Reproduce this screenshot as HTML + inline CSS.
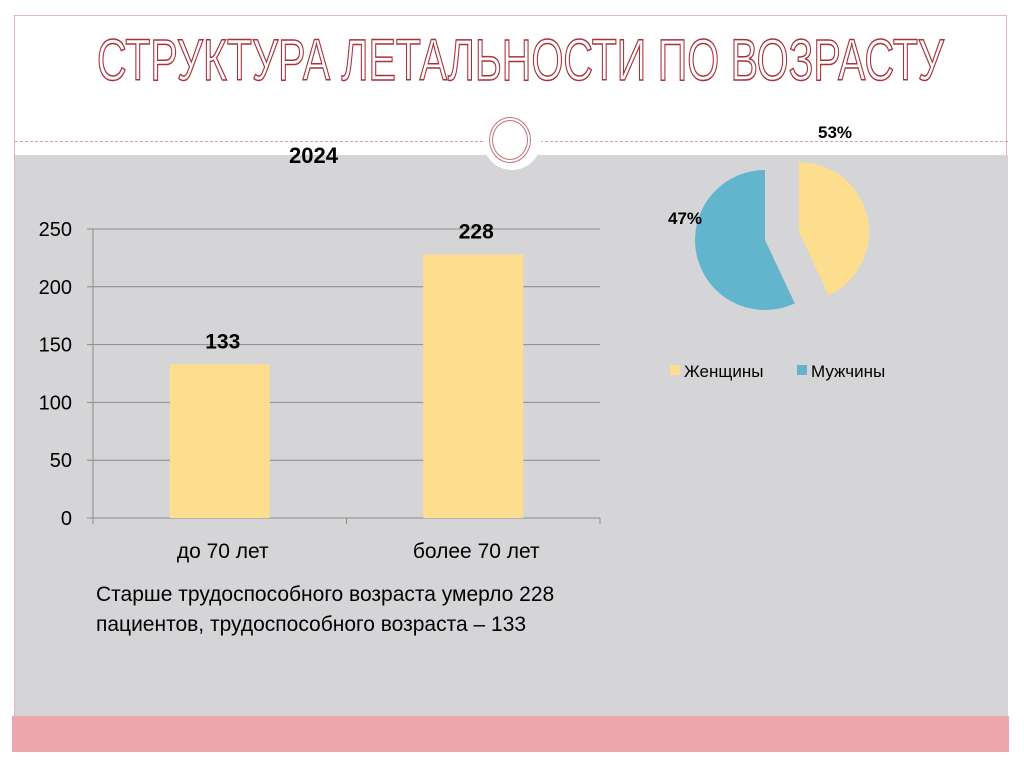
<!DOCTYPE html>
<html><head><meta charset="utf-8">
<style>
body{margin:0;width:1024px;height:767px;background:#fff;position:relative;overflow:hidden;font-family:"Liberation Sans","DejaVu Sans",sans-serif}
.abs{position:absolute}
</style></head>
<body>
<div class="abs" style="left:14px;top:15px;width:993px;height:737px;border:1px solid #e8b4bb;box-sizing:border-box"></div>
<div class="abs" style="left:15px;top:155px;width:993px;height:561px;background:#d5d5d8"></div>
<div class="abs" style="left:12px;top:716px;width:997px;height:36px;background:#eea6ae"></div>
<div class="abs" style="left:15px;top:141px;width:993px;border-top:1px dashed #d9a0a6"></div>
<div class="abs" id="title" style="left:0;top:30px;font-size:58px;line-height:62px;color:#fff;-webkit-text-stroke:1.5px #a8323c;white-space:nowrap;transform-origin:0 0">СТРУКТУРА ЛЕТАЛЬНОСТИ ПО ВОЗРАСТУ</div>
<div class="abs" style="left:483px;top:112px;width:58px;height:58px;border-radius:50%;background:#fff"></div>
<div class="abs" style="left:489px;top:117px;width:42px;height:46px;border-radius:50%;border:4px double #c5727c;box-sizing:border-box"></div>

<svg class="abs" style="left:0;top:0" width="1024" height="767" id="chart"></svg>

<div class="abs" style="left:289px;top:143px;font-size:22px;font-weight:bold;color:#000">2024</div>
<div class="abs" style="left:96px;top:580px;font-size:21px;line-height:30px;color:#000">Старше трудоспособного возраста умерло 228<br>пациентов, трудоспособного возраста – 133</div>

<script>
const categories=['до 70 лет','более 70 лет'];
const barValues=[133,228];
const yTicks=[0,50,100,150,200,250];
const pieLabels=['Женщины','Мужчины'];
const pieValues=[43,57];
const pieText=['53%','47%'];
(function(){const t=document.getElementById('title');const w=t.getBoundingClientRect().width;const s=847/w;t.style.left='97px';t.style.transform='scaleX('+s+')';})();
const svg=document.getElementById('chart');
const NS='http://www.w3.org/2000/svg';
function mk(t,a){const e=document.createElementNS(NS,t);for(const k in a)e.setAttribute(k,a[k]);svg.appendChild(e);return e;}
const x0=93,x1=600,yb=518,yt=229;
const yS=v=>yb-(v/250)*(yb-yt);
const band=(x1-x0)/categories.length;
const xC=i=>x0+band*(i+0.5);
yTicks.forEach(v=>{
 if(v>0){const g=mk('line',{x1:x0,x2:x1,y1:yS(v),y2:yS(v),stroke:'#8a8a8a','stroke-width':1});}
 const tk=mk('line',{x1:x0-6,x2:x0,y1:yS(v),y2:yS(v),stroke:'#8a8a8a'});
 
 
 const t=mk('text',{x:72,y:yS(v)+7,'text-anchor':'end','font-size':20,fill:'#000'});t.textContent=v;
 
 
});
const ax=mk('line',{x1:x0,x2:x0,y1:yt,y2:yb,stroke:'#8a8a8a'});


const xa=mk('line',{x1:x0,x2:x1,y1:yb,y2:yb,stroke:'#8a8a8a'});


for(let i=0;i<=categories.length;i++){const l=mk('line',{x1:x0+band*i,x2:x0+band*i,y1:yb,y2:yb+6,stroke:'#8a8a8a'});
 
 }
categories.forEach((c,i)=>{
 const r=mk('rect',{x:xC(i)-50,y:yS(barValues[i]),width:100,height:yb-yS(barValues[i]),fill:'#fddd8e'});
 
 
 const v=mk('text',{x:xC(i)+3,y:yS(barValues[i])-16,'text-anchor':'middle','font-size':21,'font-weight':'bold',fill:'#000'});v.textContent=barValues[i];
 
 
 const t=mk('text',{x:xC(i)+3,y:558,'text-anchor':'middle','font-size':21,fill:'#000'});t.textContent=c;
 
 
});
const tot=pieValues.reduce((a,b)=>a+b,0);
const colors=['#fddd8e','#63b5cd'];
const centers=[[799,232],[765,240]];
const R=70;
let a0=0;
const lblPos=[[835,138],[685,224]];
pieValues.forEach((v,i)=>{
 const a1=a0+v/tot*2*Math.PI;
 const [cx,cy]=centers[i];
 const p=(a)=>[cx+R*Math.sin(a),cy-R*Math.cos(a)];
 const s=p(a0),e=p(a1);
 const d=`M${cx},${cy} L${s[0]},${s[1]} A${R},${R} 0 ${a1-a0>Math.PI?1:0} 1 ${e[0]},${e[1]} Z`;
 const sl=mk('path',{d:d,fill:colors[i]});
 
 
 const t=mk('text',{x:lblPos[i][0],y:lblPos[i][1],'text-anchor':'middle','font-size':17,'font-weight':'bold',fill:'#000'});t.textContent=pieText[i];
 
 
 a0=a1;
});
const legX=[670,797];
pieLabels.forEach((l,i)=>{
 const r=mk('rect',{x:legX[i],y:365,width:10,height:10,fill:colors[i]});
 
 
 const t=mk('text',{x:legX[i]+14,y:377,'font-size':17,fill:'#000'});t.textContent=l;
 
 
});
</script>
</body></html>
